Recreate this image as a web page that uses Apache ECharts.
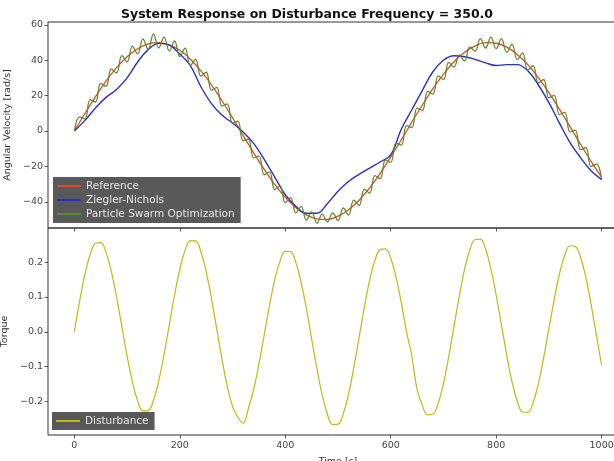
<!DOCTYPE html>
<html>
<head>
<meta charset="utf-8">
<script src="https://cdn.jsdelivr.net/npm/echarts@6/dist/echarts.min.js"></script>
<style>
  html, body { margin: 0; padding: 0; background: #fff; }
  #chart { width: 614px; height: 461px; }
</style>
</head>
<body>
<div id="chart"></div>
<script>
// sample spacing of the logged signals (time units)
const STEP_COARSE = 20
const STEP_FINE = 10

// reference trajectory, every 20
const reference = [0, 9.9, 19.4, 28.2, 35.8, 42.0, 46.5, 49.2, 50.0, 48.7, 45.6, 40.6, 34.0, 26.1, 17.1, 7.5,
  -2.5, -12.3, -21.7, -30.2, -37.5, -43.3, -47.4, -49.6, -49.9, -48.1, -44.5, -39.1, -32.1, -23.9, -14.7, -5.0,
  5.0, 14.7, 23.9, 32.1, 39.1, 44.5, 48.1, 49.9, 49.6, 47.4, 43.3, 37.5, 30.2, 21.7, 12.3, 2.5, -7.5, -17.1, -26.1]

// Ziegler-Nichols response, every 20
const zieglerNichols = [0, 6, 13, 19, 23.5, 30, 39, 46, 49.5, 48.5, 43.5, 37, 25, 15.5, 9, 4.5,
  -0.5, -7, -16, -26, -36, -42.5, -46.5, -46.5, -41, -34, -28.5, -24.5, -21, -17.5, -13.5, 1,
  12, 23, 33.5, 40, 42.5, 42, 40.5, 38.5, 37, 37.5, 37.5, 34, 26, 16, 4.5, -6.5, -15, -22.5, -27.5]

// PSO response, every 10
const pso = [0, 8, 6.9, 17.7, 16.4, 26.9, 25.2, 35.1, 32.8, 42.6,
  39, 48, 43.5, 52.1, 46.2, 54.9, 47, 53.1, 45.2, 50.9,
  42.1, 46.8, 37.1, 40.5, 31, 33.2, 23.1, 24.7, 14.1, 15.3,
  4.5, 5.5, -5.5, -4.5, -15.3, -14.1, -24.7, -23.1, -33.2, -31,
  -40.5, -37.6, -46.3, -42.6, -50.4, -45.7, -52.1, -47, -51.4, -46.2,
  -50.6, -43.5, -47.5, -39, -42.1, -32.8, -35.1, -25.2, -26.9, -16.4,
  -17.7, -6.9, -8, 3, 2, 12.9, 11.7, 22.4, 20.9, 31.2,
  29.1, 38.8, 36.1, 43, 39.5, 47.5, 45.1, 52.2, 46.9, 53,
  46.6, 52.2, 44.4, 49.1, 40.3, 44.1, 34.5, 37, 27.2, 29.1,
  18.7, 20.1, 9.3, 10.5, -0.5, 0.5, -10.5, -9.3, -20.1, -18.7, -27.1]

// disturbance signal, every 10
const disturbance = [0, 0.088, 0.165, 0.222, 0.254, 0.256, 0.228, 0.174, 0.100, 0.016,
  -0.069, -0.143, -0.198, -0.227, -0.226, -0.197, -0.141, -0.066, 0.020, 0.105,
  0.179, 0.234, 0.262, 0.261, 0.230, 0.173, 0.096, 0.009, -0.079, -0.156,
  -0.214, -0.245, -0.262, -0.220, -0.166, -0.092, -0.009, 0.075, 0.149, 0.203,
  0.231, 0.230, 0.199, 0.143, 0.067, -0.020, -0.105, -0.181, -0.237, -0.266,
  -0.265, -0.235, -0.179, -0.102, -0.016, 0.071, 0.148, 0.205, 0.236, 0.238,
  0.211, 0.157, 0.084, 0, -0.070, -0.165, -0.211, -0.238, -0.236, -0.205,
  -0.148, -0.071, 0.016, 0.102, 0.179, 0.235, 0.265, 0.266, 0.237, 0.181,
  0.105, 0.020, -0.067, -0.143, -0.199, -0.230, -0.231, -0.203, -0.149, -0.075,
  0.009, 0.092, 0.166, 0.220, 0.247, 0.245, 0.214, 0.156, 0.079, -0.009, -0.096]

const xTicks = [0, 200, 400, 600, 800, 1000]
const yTicksTop = [-40, -20, 0, 20, 40, 60]
const yTicksBottom = [-0.2, -0.1, 0, 0.1, 0.2]

const FONT = 'DejaVu Sans'
const toPairs = (vals, step) => vals.map((v, i) => [i * step, v])
const minus = (s) => String(s).replace('-', '\u2212')

const chart = echarts.init(document.getElementById('chart'))

const tickStyle = { show: true, length: 3.5, lineStyle: { color: '#333', width: 0.8 } }
const labelStyle = { fontFamily: FONT, fontSize: 9.5, color: '#444' }
const hiddenLine = { show: false, onZero: false }

// legend look: dark box, light text, plain line handles
const legendBase = {
  icon: 'rect',
  itemWidth: 24,
  itemHeight: 2,
  itemGap: 2,
  padding: [3, 6, 3, 4],
  backgroundColor: 'rgba(80,80,80,0.95)',
  textStyle: { fontFamily: FONT, fontSize: 10.5, color: '#e6e6e6', lineHeight: 12 }
}

const options = {
  animation: false,
  title: {
    text: 'System Response on Disturbance Frequency = 350.0',
    left: 'center',
    top: 3,
    textStyle: { fontFamily: FONT, fontSize: 12.5, fontWeight: 'bold', color: '#111' }
  },
  grid: [
    { left: 48, right: -14, top: 22, height: 206, outerBoundsMode: 'none', containLabel: false,
      show: true, borderColor: '#333', borderWidth: 1 },
    { left: 48, right: -14, top: 228, height: 207, outerBoundsMode: 'none', containLabel: false,
      show: true, borderColor: '#333', borderWidth: 1 }
  ],
  legend: [
    Object.assign({}, legendBase, {
      data: ['Reference', 'Ziegler-Nichols', 'Particle Swarm Optimization'],
      orient: 'vertical',
      left: 53,
      top: 177
    }),
    Object.assign({}, legendBase, {
      data: ['Disturbance'],
      left: 52,
      top: 412
    })
  ],
  xAxis: [
    {
      gridIndex: 0, type: 'value', min: -50, max: 1050,
      axisLine: hiddenLine,
      axisTick: Object.assign({ customValues: xTicks }, tickStyle),
      axisLabel: { show: false },
      splitLine: { show: false }
    },
    {
      gridIndex: 1, type: 'value', min: -50, max: 1050,
      axisLine: hiddenLine,
      axisTick: Object.assign({ customValues: xTicks }, tickStyle),
      axisLabel: Object.assign({ customValues: xTicks, margin: 6, formatter: (v) => String(v) }, labelStyle),
      splitLine: { show: false },
      name: 'Time [s]',
      nameLocation: 'middle',
      nameGap: 22,
      nameTextStyle: { fontFamily: FONT, fontSize: 9.5, color: '#333' }
    }
  ],
  yAxis: [
    {
      gridIndex: 0, type: 'value', min: -54.8, max: 61.6,
      axisLine: hiddenLine,
      axisTick: Object.assign({ customValues: yTicksTop }, tickStyle),
      axisLabel: Object.assign({ customValues: yTicksTop, margin: 5, formatter: (v) => minus(v) }, labelStyle),
      splitLine: { show: false },
      name: 'Angular Velocity [rad/s]',
      nameLocation: 'middle',
      nameGap: 33,
      nameTextStyle: { fontFamily: FONT, fontSize: 9.5, color: '#333' }
    },
    {
      gridIndex: 1, type: 'value', min: -0.296, max: 0.298,
      axisLine: hiddenLine,
      axisTick: Object.assign({ customValues: yTicksBottom }, tickStyle),
      axisLabel: Object.assign({ customValues: yTicksBottom, margin: 5, formatter: (v) => minus(v.toFixed(1)) }, labelStyle),
      splitLine: { show: false },
      name: 'Torque',
      nameLocation: 'middle',
      nameGap: 33,
      nameTextStyle: { fontFamily: FONT, fontSize: 9.5, color: '#333' }
    }
  ],
  series: [
    {
      name: 'Reference', type: 'line', xAxisIndex: 0, yAxisIndex: 0,
      symbol: 'none', smooth: 0.4, color: '#e5462c',
      lineStyle: { width: 1.3 },
      data: toPairs(reference, STEP_COARSE)
    },
    {
      name: 'Ziegler-Nichols', type: 'line', xAxisIndex: 0, yAxisIndex: 0,
      symbol: 'none', smooth: 0.4, color: '#2c2cd4',
      lineStyle: { width: 1.4 },
      data: toPairs(zieglerNichols, STEP_COARSE)
    },
    {
      name: 'Particle Swarm Optimization', type: 'line', xAxisIndex: 0, yAxisIndex: 0,
      symbol: 'none', smooth: 0.4, color: '#5a8f2a',
      lineStyle: { width: 1.3 },
      data: toPairs(pso, STEP_FINE)
    },
    {
      name: 'Disturbance', type: 'line', xAxisIndex: 1, yAxisIndex: 1,
      symbol: 'none', smooth: 0.4, color: '#bcbc10',
      lineStyle: { width: 1.2 },
      data: toPairs(disturbance, STEP_FINE)
    }
  ]
}

chart.setOption(options)
</script>
</body>
</html>
